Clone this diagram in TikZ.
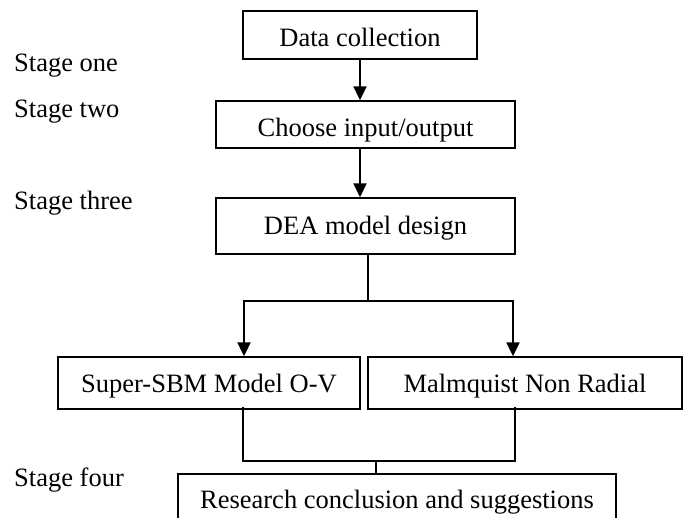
\documentclass[tikz,border=0pt]{standalone}
\usepackage{fontspec}
\setmainfont{Liberation Serif}
\usetikzlibrary{arrows.meta,calc}
\begin{document}
\begin{tikzpicture}[x=1pt,y=-1pt,
  font=\fontsize{26.5}{30}\selectfont,
  box/.style={draw=black,line width=1.4pt,inner sep=0pt,text height=24pt,text depth=6pt},
  lowtext/.style={text height=27pt,text depth=3pt},
  flow/.style={line width=2.1pt,-{Triangle[width=13pt,length=14pt]}},
  link/.style={line width=1.6pt},
  stagelbl/.style={anchor=base west,inner sep=0pt}]
\useasboundingbox (0,0) rectangle (687,518);
\clip (0,0) rectangle (687,518);

\node[box,lowtext,minimum width=234pt,minimum height=48pt] (b1) at (360,35) {Data collection};
\node[box,lowtext,minimum width=299pt,minimum height=47pt] (b2) at (365.5,124.5) {Choose input/output};
\node[box,minimum width=299pt,minimum height=56pt] (b3) at (365.5,226) {DEA model design};
\node[box,minimum width=302pt,minimum height=52pt] (b4) at (209,383) {Super-SBM Model O-V};
\node[box,minimum width=314pt,minimum height=52pt] (b5) at (525,383) {Malmquist Non Radial};
\node[box,minimum width=438pt,minimum height=50pt] (b6) at (397,499) {Research conclusion and suggestions};

\node[stagelbl] (s1) at (14,72) {Stage one};
\node[stagelbl] (s2) at (14,117.5) {Stage two};
\node[stagelbl] (s3) at (14,210) {Stage three};
\node[stagelbl] (s4) at (14,486) {Stage four};

\draw[flow] (b1.south) -- (b1.south |- b2.north);
\draw[flow] (b1.south |- b2.south) -- (b1.south |- b3.north);

\coordinate (split) at (368,301);
\coordinate (sl) at (244,301);
\coordinate (sr) at (513,301);
\draw[link] (split |- b3.south) -- (split);
\draw[link] ([xshift=-0.8pt]sl) -- ([xshift=0.8pt]sr);
\draw[flow] (sl) -- (sl |- b4.north);
\draw[flow] (sr) -- (sr |- b5.north);

\coordinate (ml) at (243,461);
\coordinate (mr) at (515,461);
\coordinate (mj) at (376,461);
\draw[link] ([yshift=3pt]ml |- b4.south) -- (ml);
\draw[link] ([yshift=3pt]mr |- b5.south) -- (mr);
\draw[link] ([xshift=-0.8pt]ml) -- ([xshift=0.8pt]mr);
\draw[link] (mj) -- (mj |- b6.north);
\end{tikzpicture}
\end{document}
